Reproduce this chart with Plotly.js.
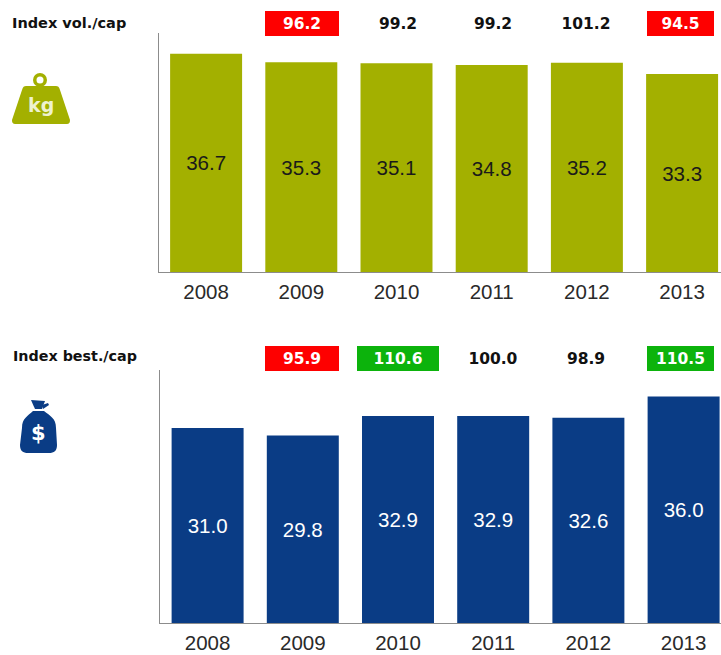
<!DOCTYPE html>
<html><head><meta charset="utf-8">
<script src="https://cdn.plot.ly/plotly-3.0.1.min.js"></script>
<style>html,body{margin:0;padding:0;background:#fff}</style></head>
<body><div id="chart" style="width:721px;height:655px"></div>
<script>
const years = ['2008','2009','2010','2011','2012','2013'];
const volValues = [36.7,35.3,35.1,34.8,35.2,33.3];
const spendValues = [31.0,29.8,32.9,32.9,32.6,36.0];
const volIndex = [null,'96.2','99.2','99.2','101.2','94.5'];
const volIndexFill = [null,'#fe0000',null,null,null,'#fe0000'];
const spendIndex = [null,'95.9','110.6','100.0','98.9','110.5'];
const spendIndexFill = [null,'#fe0000','#0cb30c',null,null,'#0cb30c'];
const volTitle = 'Index vol./cap';
const spendTitle = 'Index best./cap';
const OLIVE = '#a3b000', NAVY = '#0a3c85';
const W = 721, H = 655;
const volBox = {width:[0,74,50,50,60,67], shift:[0,0.5,1,1,-1,-2]};
const spendBox = {width:[0,74,82,60,50,67], shift:[0,-1,0,0,-2,-3.5]};
const px = x => x / W, py = y => 1 - y / H;
const P = (x,y) => px(x).toFixed(5) + ',' + py(y).toFixed(5);
const FONT = 'Liberation Sans, Arial, sans-serif';
const BOLD = 'DejaVu Sans, Verdana, sans-serif';

function bar(vals, xa, ya, color, txt) {
  return {type:'bar', x:years, y:vals, xaxis:xa, yaxis:ya,
    marker:{color:color, line:{width:0}},
    text:vals.map(v=>v.toFixed(1)), textposition:'inside', insidetextanchor:'middle',
    textangle:0, constraintext:'none',
    textfont:{family:FONT,size:20.5,color:txt}, hoverinfo:'skip', cliponaxis:false};
}
function axisX(left, anchor) {
  return {domain:[px(left),1], anchor:anchor, type:'category', range:[-0.5,(W-left)/95.2-0.5],
    showgrid:false, zeroline:false, showline:true, linecolor:'#8c8c8c', linewidth:1,
    ticks:'outside', ticklen:1, tickcolor:'rgba(0,0,0,0)', fixedrange:true,
    tickfont:{family:FONT,size:20.5,color:'#2a2a2a'}};
}
function axisY(top, bottom, anchor) {
  return {domain:[py(bottom),py(top)], anchor:anchor, range:[0,40.2], showgrid:false, zeroline:false,
    showticklabels:false, ticks:'', showline:true, linecolor:'#8c8c8c', linewidth:1, fixedrange:true};
}
function indexNotes(labels, fills, box, xa, yPix) {
  return labels.map((t,i)=> t===null ? null : ({
    xref:xa, yref:'paper', x:i, y:py(yPix), xshift:box.shift[i], text:'<b>'+t+'</b>', showarrow:false,
    width:box.width[i], height:25, align:'center', valign:'middle', xanchor:'center', yanchor:'middle',
    bgcolor:fills[i]||'rgba(0,0,0,0)', borderpad:0, borderwidth:0,
    font:{family:BOLD,size:15.5,color:fills[i]?'#ffffff':'#111111'}
  })).filter(Boolean);
}
const weight = 'M'+P(26,86)+'L'+P(56,86)+'C'+P(58,86)+' '+P(59,87)+' '+P(60,90)+'L'+P(70,120)+
  'C'+P(70,123)+' '+P(69,124)+' '+P(67,124)+'L'+P(15,124)+'C'+P(13,124)+' '+P(12,123)+' '+P(12,120)+
  'L'+P(22,90)+'C'+P(23,87)+' '+P(24,86)+' '+P(26,86)+'Z';
const bagBody = 'M'+P(33,411)+'L'+P(44,411)+'C'+P(50,416)+' '+P(56,418)+' '+P(56,428)+'L'+P(57,445)+
  'C'+P(57,451)+' '+P(54,453)+' '+P(49,453)+'L'+P(28,453)+'C'+P(23,453)+' '+P(20,451)+' '+P(20,445)+
  'L'+P(22,428)+'C'+P(22,418)+' '+P(28,416)+' '+P(33,411)+'Z';
const bagTop = 'M'+[P(31,400),P(45,401),P(42,409),P(35,409)].join('L')+'Z';
const bagTie = 'M'+[P(42,405),P(48,403),P(49,405),P(43,409)].join('L')+'Z';
const shape = (d,c)=>({type:'path',xref:'paper',yref:'paper',path:d,fillcolor:c,line:{width:0}});
const disc = (cx,cy,r,c)=>({type:'circle',xref:'paper',yref:'paper',x0:px(cx-r),x1:px(cx+r),y0:py(cy+r),y1:py(cy-r),fillcolor:c,line:{width:0}});
const label = (x,y,anchor,text,font)=>({xref:'paper',yref:'paper',x:px(x),y:py(y),xanchor:anchor,yanchor:'middle',showarrow:false,text:text,font:font});

const layout = {
  width:W, height:H, margin:{l:0,r:0,t:0,b:0}, paper_bgcolor:'#fff', plot_bgcolor:'#fff', showlegend:false,
  bargap:0.244,
  xaxis:axisX(158.5,'y'), yaxis:axisY(33,272,'x'),
  xaxis2:axisX(160,'y2'), yaxis2:axisY(370,623,'x2'),
  shapes:[disc(40,80,7,OLIVE),disc(40,80,3.5,'#ffffff'),shape(weight,OLIVE),shape(bagBody,NAVY),shape(bagTop,NAVY),shape(bagTie,NAVY)],
  annotations:[
    label(10,23,'left','<b>'+volTitle+'</b>',{family:BOLD,size:14.5,color:'#111'}),
    label(11,356,'left','<b>'+spendTitle+'</b>',{family:BOLD,size:14.3,color:'#111'}),
    label(40.5,105,'center','<b>kg</b>',{family:BOLD,size:19,color:'#eef2cf'}),
    label(38.5,433,'center','<b>$</b>',{family:BOLD,size:21,color:'#fff'}),
    ...indexNotes(volIndex,volIndexFill,volBox,'x',24),
    ...indexNotes(spendIndex,spendIndexFill,spendBox,'x2',358)
  ]
};
Plotly.newPlot('chart',[bar(volValues,'x','y',OLIVE,'#1a1a1a'),bar(spendValues,'x2','y2',NAVY,'#ffffff')],layout,{displayModeBar:false,staticPlot:true});
</script></body></html>
